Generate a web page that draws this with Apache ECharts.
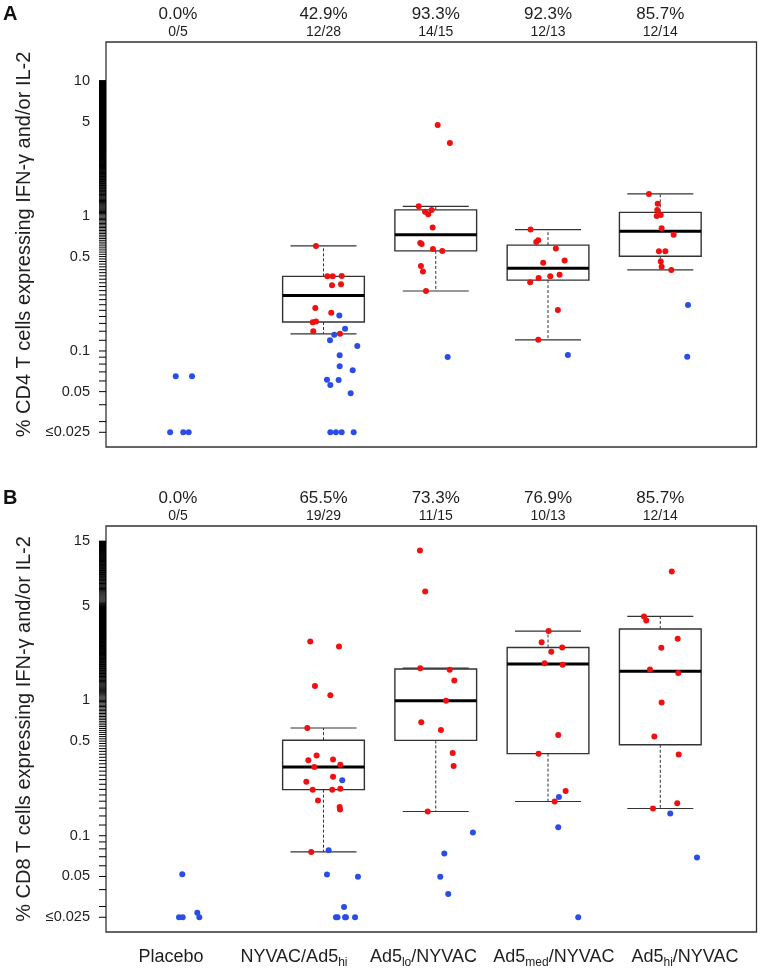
<!DOCTYPE html>
<html><head><meta charset="utf-8">
<script src="https://cdn.jsdelivr.net/npm/echarts@6/dist/echarts.min.js"></script>
<style>html,body{margin:0;padding:0;background:#fff}#c{width:762px;height:969px}</style>
</head><body><div id="c"></div>
<script>
// ---------- DATA ----------
const groups = ['Placebo', 'NYVAC/Ad5hi', 'Ad5lo/NYVAC', 'Ad5med/NYVAC', 'Ad5hi/NYVAC'];
const groupLabelRich = ['{m|Placebo}', '{m|NYVAC/Ad5}{s|hi}', '{m|Ad5}{s|lo}{m|/NYVAC}', '{m|Ad5}{s|med}{m|/NYVAC}', '{m|Ad5}{s|hi}{m|/NYVAC}'];

const cd4TickLabelValues = [0.025, 0.05, 0.1, 0.5, 1, 5, 10];
const cd4TickLabels = ['≤0.025', '0.05', '0.1', '0.5', '1', '5', '10'];
const cd8TickLabelValues = [0.025, 0.05, 0.1, 0.5, 1, 5, 15];
const cd8TickLabels = ['≤0.025', '0.05', '0.1', '0.5', '1', '5', '15'];

// Panel A (CD4): responders (red) and non-responders (blue), per group
const cd4RespVals = [
  [],
  [0.60, 0.357, 0.357, 0.359, 0.307, 0.312, 0.208, 0.192, 0.163, 0.165, 0.140, 0.134],
  [4.72, 3.47, 1.179, 1.076, 1.029, 1.108, 0.820, 0.631, 0.621, 0.570, 0.551, 0.426, 0.387, 0.278],
  [0.792, 0.642, 0.660, 0.573, 0.467, 0.451, 0.367, 0.357, 0.347, 0.323, 0.201, 0.121],
  [1.455, 1.233, 1.108, 1.0, 1.017, 0.811, 0.727, 0.548, 0.548, 0.459, 0.421, 0.398]
];
const cd4RespJitter = [
  [],
  [-0.067, 0.034, 0.082, 0.162, 0.076, 0.156, -0.073, 0.069, -0.096, -0.067, -0.091, 0.147],
  [0.017, 0.126, -0.152, -0.096, -0.067, -0.037, -0.028, -0.138, -0.126, -0.025, 0.058, -0.132, -0.114, -0.087],
  [-0.155, -0.105, -0.087, 0.070, 0.148, -0.043, 0.103, 0.020, -0.084, -0.159, 0.088, -0.087],
  [-0.101, -0.023, -0.027, -0.032, 0.004, 0.012, 0.119, -0.012, 0.045, 0.004, 0.012, 0.098]
];
const cd4NonVals = [
  [0.065, 0.065, 0.025, 0.025, 0.025],
  [0.183, 0.146, 0.132, 0.120, 0.109, 0.093, 0.077, 0.072, 0.0613, 0.061, 0.056, 0.0486, 0.025, 0.025, 0.025, 0.025],
  [0.0903],
  [0.0934],
  [0.219, 0.0907]
];
const cd4NonJitter = [
  [-0.020, 0.125, -0.070, 0.047, 0.095],
  [0.141, 0.192, 0.096, 0.058, 0.301, 0.144, 0.144, 0.260, 0.031, 0.135, 0.061, 0.242, 0.061, 0.111, 0.162, 0.269],
  [0.106],
  [0.177],
  [0.247, 0.240]
];

// Panel B (CD8)
const cd8RespVals = [
  [],
  [2.72, 2.50, 1.275, 1.089, 0.625, 0.391, 0.361, 0.365, 0.322, 0.335, 0.273, 0.250, 0.219, 0.219, 0.222, 0.182, 0.163, 0.156, 0.076],
  [12.8, 6.37, 1.73, 1.68, 1.405, 0.995, 0.688, 0.604, 0.408, 0.327, 0.151],
  [3.25, 2.69, 2.46, 2.29, 1.88, 1.83, 0.555, 0.404, 0.214, 0.179],
  [8.95, 4.17, 3.89, 2.85, 2.45, 1.69, 1.59, 0.966, 0.540, 0.399, 0.174, 0.159]
];
const cd8RespJitter = [
  [],
  [-0.118, 0.138, -0.076, 0.061, -0.144, -0.061, -0.135, 0.085, -0.082, 0.150, 0.085, -0.153, -0.096, 0.078, 0.150, -0.049, 0.144, 0.147, -0.109],
  [-0.141, -0.094, -0.138, 0.124, 0.165, 0.091, -0.129, 0.046, 0.151, 0.159, -0.072],
  [0.005, -0.057, 0.126, 0.029, -0.030, 0.130, 0.091, -0.084, 0.157, 0.059],
  [0.102, -0.145, -0.125, 0.155, 0.009, -0.092, 0.160, 0.012, -0.053, 0.164, 0.151, -0.065]
];
const cd8NonVals = [
  [0.052, 0.025, 0.025, 0.027, 0.025],
  [0.257, 0.0782, 0.0517, 0.0497, 0.0298, 0.025, 0.025, 0.025, 0.025, 0.025],
  [0.1055, 0.0739, 0.0497, 0.0372],
  [0.1935, 0.1156, 0.025],
  [0.146, 0.069]
];
const cd8NonJitter = [
  [0.038, 0.009, 0.042, 0.172, 0.190],
  [0.167, 0.046, 0.031, 0.307, 0.183, 0.111, 0.125, 0.192, 0.200, 0.281],
  [0.331, 0.076, 0.040, 0.111],
  [0.097, 0.091, 0.269],
  [0.089, 0.327]
];

// ---------- LAYOUT ----------
const groupPos = [0.704, 2, 3, 4, 5];
const bottomLabelPos = [0.642, 1.737, 2.890, 4.052, 5.220];
const xMin = 0.0627, xMax = 5.857;
const yMin = -1.711, yMax = 1.288;
const FONT = "'Liberation Sans', Arial, Helvetica, sans-serif";
const RED = '#f01010', BLUE = '#2a4de8';
const INK = '#1e1e1e';

// tick marks of the y axes (dense R-style ticks)
function tickValues(top, coarseFrom) {
  const t = [0.025];
  for (let i = 3; i <= 9; i++) t.push(i / 100);
  const fineTop = Math.min(top, coarseFrom);
  for (let i = 5; i <= Math.round(fineTop * 50); i++) t.push(i / 50);
  for (let i = Math.round(fineTop * 10) + 1; i <= Math.round(top * 10); i++) t.push(i / 10);
  return t;
}
function fivenum(x) {
  const s = [...x].sort((a, b) => a - b), n = s.length;
  const n4 = Math.floor((n + 3) / 2) / 2;
  return [1, n4, (n + 1) / 2, n + 1 - n4, n].map(d => 0.5 * (s[Math.floor(d) - 1] + s[Math.ceil(d) - 1]));
}
function boxStats(x) {
  const f = fivenum(x), iqr = f[3] - f[1];
  const lo = f[1] - 1.5 * iqr, hi = f[3] + 1.5 * iqr;
  const inside = x.filter(v => v >= lo && v <= hi);
  return [Math.min(...inside), f[1], f[2], f[3], Math.max(...inside)];
}
function points(vals, jit) {
  const out = [];
  vals.forEach((arr, g) => arr.forEach((v, i) => out.push([groupPos[g] + jit[g][i], Math.log10(v)])));
  return out;
}
function boxData(vals) {
  const out = [];
  vals.forEach((arr, g) => { if (arr.length) out.push([groupPos[g], ...boxStats(arr).map(Math.log10)]); });
  return out;
}
function nearest(list, v) {
  let k = 0, b = Infinity;
  list.forEach((l, i) => { const d = Math.abs(l - v); if (d < b) { b = d; k = i; } });
  return k;
}
function renderBox(params, api) {
  const x = api.value(0), mn = api.value(1), q1 = api.value(2), md = api.value(3), q3 = api.value(4), mx = api.value(5);
  const bw = 0.364, cw = 0.294;
  const p = (a, b) => api.coord([a, b]);
  const line = (a, b, style) => ({ type: 'line', shape: { x1: a[0], y1: a[1], x2: b[0], y2: b[1] }, style });
  const tl = p(x - bw, q3), br = p(x + bw, q1);
  const gray = '#333';
  return {
    type: 'group', children: [
      line(p(x, q3), p(x, mx), { stroke: gray, lineWidth: 1, lineDash: [3, 2] }),
      line(p(x, q1), p(x, mn), { stroke: gray, lineWidth: 1, lineDash: [3, 2] }),
      line(p(x - cw, mx), p(x + cw, mx), { stroke: gray, lineWidth: 1.2 }),
      line(p(x - cw, mn), p(x + cw, mn), { stroke: gray, lineWidth: 1.2 }),
      { type: 'rect', shape: { x: tl[0], y: tl[1], width: br[0] - tl[0], height: br[1] - tl[1] }, style: { fill: 'none', stroke: gray, lineWidth: 1.4 } },
      line(p(x - bw, md), p(x + bw, md), { stroke: '#000', lineWidth: 3 })
    ]
  };
}
function renderTick(params, api) {
  const c = api.coord([xMin, api.value(1)]);
  return { type: 'line', shape: { x1: c[0] - 7, y1: c[1], x2: c[0], y2: c[1] }, style: { stroke: '#000', lineWidth: 1 } };
}

function yAxisCfg(gridIndex, labelVals, labelTexts, name) {
  const logLabels = labelVals.map(v => Math.log10(v));
  return {
    type: 'value', gridIndex, min: yMin, max: yMax,
    axisLine: { show: false }, splitLine: { show: false }, axisTick: { show: false },
    axisLabel: { show: true, customValues: logLabels, margin: 16, fontSize: 14.5, color: INK, fontFamily: FONT,
      formatter: v => labelTexts[nearest(logLabels, v)] },
    name, nameLocation: 'middle', nameRotate: 90, nameGap: 70,
    nameTextStyle: { fontSize: 20, color: INK, fontFamily: FONT }
  };
}
function topAxisCfg(gridIndex, respVals, nonVals) {
  return {
    type: 'value', gridIndex, position: 'top', min: xMin, max: xMax,
    axisLine: { show: false }, axisTick: { show: false }, splitLine: { show: false },
    axisLabel: {
      customValues: groupPos, margin: 2,
      formatter: v => {
        const g = nearest(groupPos, v);
        const r = respVals[g].length, n = r + nonVals[g].length;
        return '{p|' + (100 * r / n).toFixed(1) + '%}\n{f|' + r + '/' + n + '}';
      },
      rich: {
        p: { fontSize: 17, lineHeight: 20, color: INK, fontFamily: FONT },
        f: { fontSize: 14, lineHeight: 16, color: INK, fontFamily: FONT }
      }
    }
  };
}
function tickSeries(idx, top, coarseFrom) {
  return { type: 'custom', xAxisIndex: idx, yAxisIndex: idx, renderItem: renderTick, clip: false, silent: true, z: 1,
    data: tickValues(top, coarseFrom).map(v => [xMin, Math.log10(v)]), encode: { x: 0, y: 1 } };
}

const chart = echarts.init(document.getElementById('c'), null, { renderer: 'canvas' });
chart.setOption({
  animation: false,
  backgroundColor: '#fff',
  textStyle: { fontFamily: FONT },
  grid: [
    { left: 106, right: 5.5, top: 42, height: 405, show: true, borderColor: '#333', borderWidth: 1.3, backgroundColor: 'transparent', containLabel: false, outerBoundsMode: 'none' },
    { left: 106, right: 5.5, top: 526, height: 406, show: true, borderColor: '#333', borderWidth: 1.3, backgroundColor: 'transparent', containLabel: false, outerBoundsMode: 'none' }
  ],
  xAxis: [
    topAxisCfg(0, cd4RespVals, cd4NonVals),
    topAxisCfg(1, cd8RespVals, cd8NonVals),
    {
      type: 'value', gridIndex: 1, position: 'bottom', min: xMin, max: xMax,
      axisLine: { show: false }, axisTick: { show: false }, splitLine: { show: false },
      axisLabel: {
        customValues: bottomLabelPos, margin: 12,
        formatter: v => groupLabelRich[nearest(bottomLabelPos, v)],
        rich: {
          m: { fontSize: 18, lineHeight: 26, color: INK, fontFamily: FONT },
          s: { fontSize: 12, padding: [12, 0, 0, 0], color: INK, fontFamily: FONT }
        }
      }
    }
  ],
  yAxis: [
    yAxisCfg(0, cd4TickLabelValues, cd4TickLabels, '% CD4 T cells expressing IFN-γ and/or IL-2'),
    yAxisCfg(1, cd8TickLabelValues, cd8TickLabels, '% CD8 T cells expressing IFN-γ and/or IL-2')
  ],
  graphic: [
    { type: 'text', left: 3, top: 4, style: { text: 'A', font: 'bold 20px ' + FONT, fill: '#111' } },
    { type: 'text', left: 3, top: 488, style: { text: 'B', font: 'bold 20px ' + FONT, fill: '#111' } }
  ],
  series: [
    tickSeries(0, 10, 10),
    tickSeries(1, 15, 5),
    { type: 'custom', xAxisIndex: 0, yAxisIndex: 0, renderItem: renderBox, data: boxData(cd4RespVals), z: 2, encode: { x: 0, y: [1, 2, 3, 4, 5] } },
    { type: 'custom', xAxisIndex: 1, yAxisIndex: 1, renderItem: renderBox, data: boxData(cd8RespVals), z: 2, encode: { x: 0, y: [1, 2, 3, 4, 5] } },
    { type: 'scatter', xAxisIndex: 0, yAxisIndex: 0, data: points(cd4NonVals, cd4NonJitter), symbolSize: 6, itemStyle: { color: BLUE, opacity: 1 }, z: 3 },
    { type: 'scatter', xAxisIndex: 0, yAxisIndex: 0, data: points(cd4RespVals, cd4RespJitter), symbolSize: 6, itemStyle: { color: RED, opacity: 1 }, z: 4 },
    { type: 'scatter', xAxisIndex: 1, yAxisIndex: 1, data: points(cd8NonVals, cd8NonJitter), symbolSize: 6, itemStyle: { color: BLUE, opacity: 1 }, z: 3 },
    { type: 'scatter', xAxisIndex: 1, yAxisIndex: 1, data: points(cd8RespVals, cd8RespJitter), symbolSize: 6, itemStyle: { color: RED, opacity: 1 }, z: 4 }
  ]
});
</script></body></html>
